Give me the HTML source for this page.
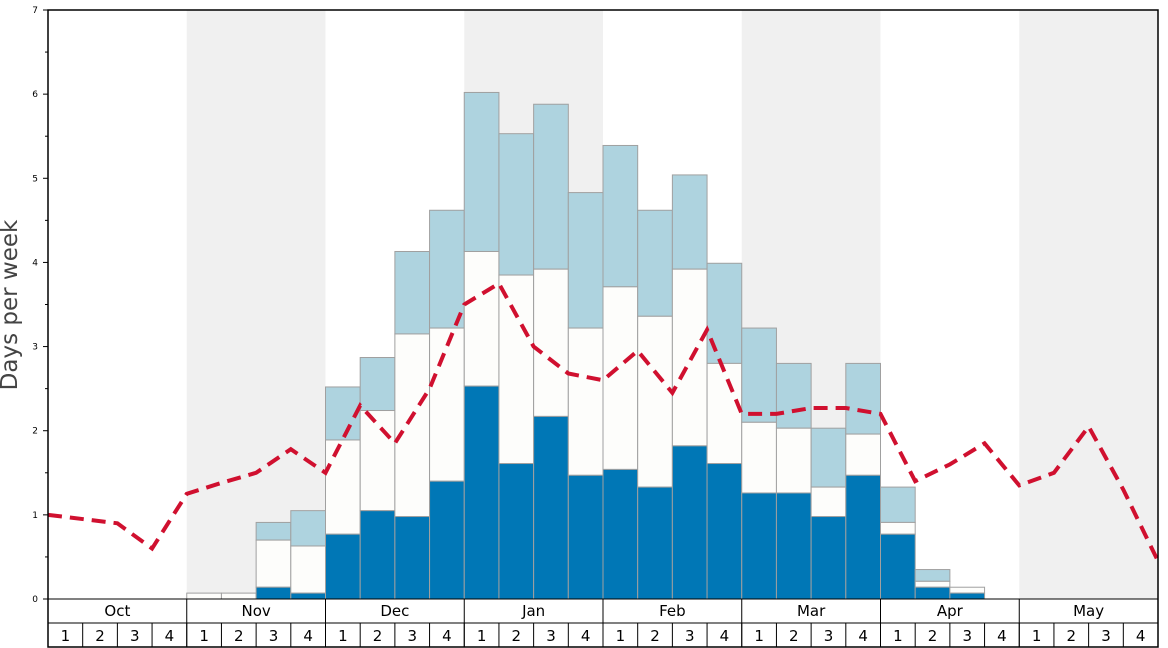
<!DOCTYPE html>
<html><head><meta charset="utf-8"><style>
html,body{margin:0;padding:0;background:#fff;}
svg{display:block;font-family:"DejaVu Sans","Liberation Sans",sans-serif;}
</style></head><body>
<svg id="c" width="1168" height="648" xmlns="http://www.w3.org/2000/svg"></svg>
<script>
const s=document.getElementById('c');
const X0=48,X1=1158,Y0=599,YT=10,W=(X1-X0)/32,U=(Y0-YT)/7;
const y=v=>Y0-v*U;
let h='';
const mons=['Oct','Nov','Dec','Jan','Feb','Mar','Apr','May'];
for(let m=0;m<8;m++){if(m%2==1)h+=`<rect x="${X0+m*4*W}" y="${YT}" width="${4*W}" height="${Y0-YT}" fill="#f0f0f0"/>`;}
const bars={4:[0,0.07,0.07],5:[0,0.07,0.07],6:[0.14,0.7,0.91],7:[0.07,0.63,1.05],8:[0.77,1.89,2.52],9:[1.05,2.24,2.87],10:[0.98,3.15,4.13],11:[1.4,3.22,4.62],12:[2.53,4.13,6.02],13:[1.61,3.85,5.53],14:[2.17,3.92,5.88],15:[1.47,3.22,4.83],16:[1.54,3.71,5.39],17:[1.33,3.36,4.62],18:[1.82,3.92,5.04],19:[1.61,2.8,3.99],20:[1.26,2.1,3.22],21:[1.26,2.03,2.8],22:[0.98,1.33,2.03],23:[1.47,1.96,2.8],24:[0.77,0.91,1.33],25:[0.14,0.21,0.35],26:[0.07,0.14,0.14]};
for(const k in bars){const [a,b,c]=bars[k];const x=X0+k*W;
 if(c>b)h+=`<rect x="${x}" y="${y(c)}" width="${W}" height="${y(b)-y(c)}" fill="#aed3df" stroke="#a0a0a0" stroke-width="1"/>`;
 if(b>a)h+=`<rect x="${x}" y="${y(b)}" width="${W}" height="${y(a)-y(b)}" fill="#fdfdfb" stroke="#a0a0a0" stroke-width="1"/>`;
 if(a>0)h+=`<rect x="${x}" y="${y(a)}" width="${W}" height="${Y0-y(a)}" fill="#0077b6" stroke="#a0a0a0" stroke-width="1"/>`;}
const L=[1.0,0.95,0.9,0.6,1.25,1.38,1.5,1.78,1.5,2.3,1.85,2.5,3.5,3.75,3.0,2.68,2.6,2.95,2.45,3.2,2.2,2.2,2.27,2.27,2.2,1.4,1.6,1.85,1.35,1.5,2.05,1.3,0.45];
h+=`<polyline fill="none" stroke="#d0102f" stroke-width="4" stroke-dasharray="14,8" points="${L.map((v,i)=>(X0+i*W)+','+y(v)).join(' ')}"/>`;
h+=`<rect x="${X0}" y="${YT}" width="${X1-X0}" height="${647-YT}" fill="none" stroke="#000" stroke-width="1.5"/>`;
h+=`<line x1="${X0}" y1="${Y0}" x2="${X1}" y2="${Y0}" stroke="#000"/>`;
h+=`<line x1="${X0}" y1="623" x2="${X1}" y2="623" stroke="#000"/>`;
for(let v=0;v<=7;v++){h+=`<text x="38" y="${y(v)+3}" font-size="9" text-anchor="end">${v}</text>`;h+=`<line x1="43" y1="${y(v)}" x2="${X0}" y2="${y(v)}" stroke="#000"/>`;
 if(v<7)h+=`<line x1="45" y1="${y(v+0.5)}" x2="${X0}" y2="${y(v+0.5)}" stroke="#000"/>`;}
for(let m=0;m<8;m++){const x=X0+m*4*W;h+=`<line x1="${x}" y1="${Y0}" x2="${x}" y2="647" stroke="#000"/>`;
 h+=`<text x="${x+2*W}" y="616" font-size="15" text-anchor="middle">${mons[m]}</text>`;
 for(let w=0;w<4;w++){const xx=x+w*W;h+=`<line x1="${xx}" y1="623" x2="${xx}" y2="647" stroke="#000"/>`;h+=`<text x="${xx+W/2}" y="641" font-size="15" text-anchor="middle">${w+1}</text>`;}}
h+=`<text transform="translate(17,305) rotate(-90)" font-size="23" fill="#444" text-anchor="middle">Days per week</text>`;
s.innerHTML=h;
</script>
</body></html>
